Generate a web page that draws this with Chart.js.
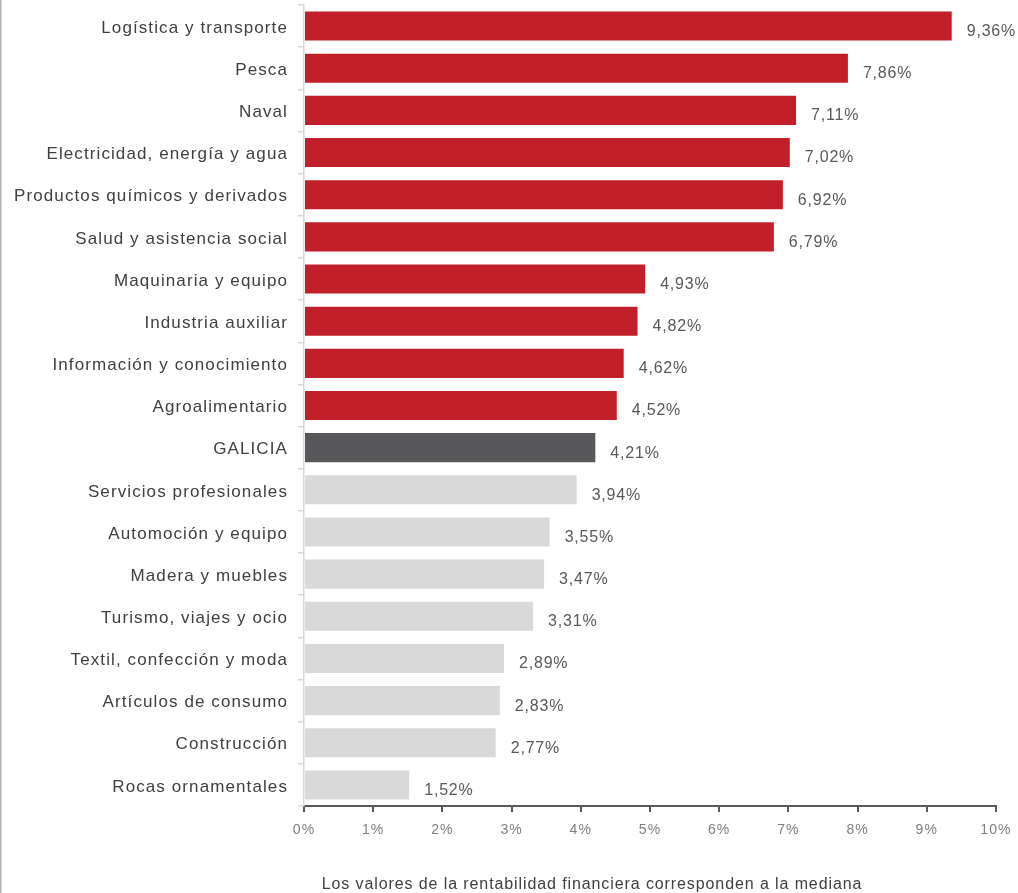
<!DOCTYPE html>
<html lang="es">
<head>
<meta charset="utf-8">
<title>Rentabilidad financiera por sector</title>
<script src="https://cdn.jsdelivr.net/npm/chart.js@4/dist/chart.umd.min.js"></script>
<style>
  html, body { margin: 0; padding: 0; background: #ffffff; }
  #wrap { position: relative; width: 1018px; height: 893px; }
  canvas { display: block; }
</style>
</head>
<body>
<div id="wrap"><canvas id="chart" width="1018" height="893"></canvas></div>
<script>
// Sectors, sorted by financial return (median), with Galicia as reference
const categories = [
  'Logística y transporte',
  'Pesca',
  'Naval',
  'Electricidad, energía y agua',
  'Productos químicos y derivados',
  'Salud y asistencia social',
  'Maquinaria y equipo',
  'Industria auxiliar',
  'Información y conocimiento',
  'Agroalimentario',
  'GALICIA',
  'Servicios profesionales',
  'Automoción y equipo',
  'Madera y muebles',
  'Turismo, viajes y ocio',
  'Textil, confección y moda',
  'Artículos de consumo',
  'Construcción',
  'Rocas ornamentales'
];

const values = [
  9.36, 7.86, 7.11, 7.02, 6.92, 6.79, 4.93, 4.82, 4.62, 4.52,
  4.21, 3.94, 3.55, 3.47, 3.31, 2.89, 2.83, 2.77, 1.52
];

const referenceLabel = 'GALICIA';
const xTicks = [0, 1, 2, 3, 4, 5, 6, 7, 8, 9, 10];
const footnote = 'Los valores de la rentabilidad financiera corresponden a la mediana';

// Colour each sector relative to the regional reference value
const refValue = values[categories.indexOf(referenceLabel)];
const barColors = categories.map((c, i) => {
  if (c === referenceLabel) return '#58585a';
  return values[i] > refValue ? '#c1202a' : '#d9d9d9';
});

const fmt = v => v.toFixed(2).replace('.', ',') + '%';

const FONT = '"Liberation Sans", Arial, Helvetica, sans-serif';

const spacingPlugin = {
  id: 'spacing',
  beforeDraw(chart) {
    chart.ctx.letterSpacing = '1.1px';
  }
};

const valueLabels = {
  id: 'valueLabels',
  afterDatasetsDraw(chart) {
    const ctx = chart.ctx;
    const meta = chart.getDatasetMeta(0);
    ctx.save();
    ctx.letterSpacing = '0.8px';
    ctx.font = '16px ' + FONT;
    ctx.fillStyle = '#595959';
    ctx.textAlign = 'left';
    ctx.textBaseline = 'middle';
    meta.data.forEach((bar, i) => {
      ctx.fillText(fmt(values[i]), bar.x + 15, bar.y + 5.5);
    });
    ctx.restore();
  }
};

const frame = {
  id: 'frame',
  afterDraw(chart) {
    const ctx = chart.ctx;
    ctx.save();
    // left border of the figure
    ctx.strokeStyle = '#b4b4b4';
    ctx.lineWidth = 1.5;
    ctx.beginPath();
    ctx.moveTo(0.75, 0);
    ctx.lineTo(0.75, chart.height);
    ctx.stroke();
    // footnote
    ctx.letterSpacing = '0.9px';
    ctx.font = '16px ' + FONT;
    ctx.fillStyle = '#404040';
    ctx.textAlign = 'center';
    ctx.textBaseline = 'middle';
    ctx.fillText(footnote, 592, 885);
    ctx.restore();
  }
};

new Chart(document.getElementById('chart'), {
  type: 'bar',
  data: {
    labels: categories,
    datasets: [{
      data: values,
      backgroundColor: barColors,
      borderWidth: 0,
      barPercentage: 0.69,
      categoryPercentage: 1.0
    }]
  },
  options: {
    indexAxis: 'y',
    responsive: false,
    animation: false,
    maintainAspectRatio: false,
    layout: { padding: { top: 5, right: 22, bottom: 47, left: 0 } },
    plugins: {
      legend: { display: false },
      tooltip: { enabled: false }
    },
    scales: {
      x: {
        min: xTicks[0],
        max: xTicks[xTicks.length - 1],
        afterBuildTicks(scale) {
          scale.ticks = xTicks.map(v => ({ value: v }));
        },
        afterFit(scale) {
          scale.height = 40;
          scale.paddingLeft = 0;
          scale.paddingRight = 0;
        },
        ticks: {
          callback: v => v + '%',
          color: '#7f7f7f',
          font: { family: FONT, size: 14 },
          padding: 10,
          maxRotation: 0
        },
        grid: {
          drawOnChartArea: false,
          drawTicks: true,
          tickLength: 6,
          color: '#595959',
          lineWidth: 2
        },
        border: { display: true, color: '#595959', width: 2 }
      },
      y: {
        afterFit(scale) {
          scale.width = 304;
          scale.paddingTop = 0;
          scale.paddingBottom = 0;
        },
        ticks: {
          color: '#404040',
          font: { family: FONT, size: 17 },
          padding: 10,
          labelOffset: 2,
          autoSkip: false
        },
        grid: {
          offset: true,
          drawOnChartArea: false,
          drawTicks: true,
          tickLength: 6,
          color: '#d9d9d9',
          lineWidth: 1.5
        },
        border: { display: true, color: '#d9d9d9', width: 1.5 }
      }
    }
  },
  plugins: [spacingPlugin, valueLabels, frame]
});
</script>
</body>
</html>
